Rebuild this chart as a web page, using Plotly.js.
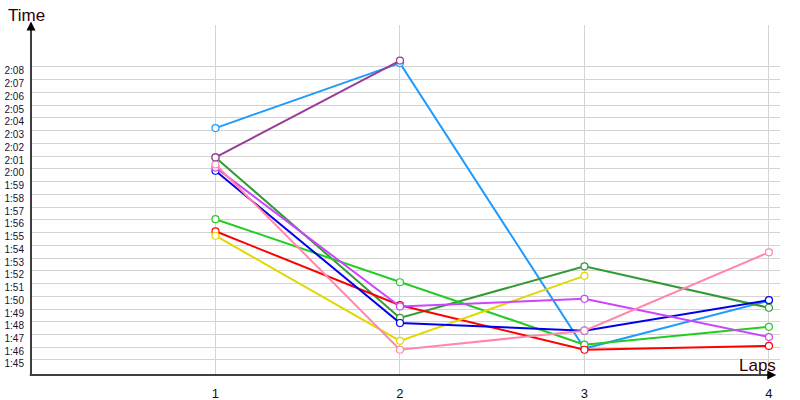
<!DOCTYPE html>
<html>
<head>
<meta charset="utf-8">
<script src="https://cdn.plot.ly/plotly-3.0.1.min.js"></script>
<style>html,body{margin:0;padding:0;background:#fff;}#chart{width:800px;height:400px;}</style>
</head>
<body>
<div id="chart"></div>
<script>
// Laps (x) and lap times in seconds (y)
const laps = [1, 2, 3, 4];
const lightBlue = [123.2, 128.3, 105.9, 109.65];
const darkGreen = [120.9, 108.3, 112.35, 109.1];
const green     = [116.05, 111.1, 106.2, 107.6];
const red       = [115.1, 109.3, 105.8, 106.1];
const yellow    = [114.75, 106.5, 111.6];
const blue      = [119.85, 107.9, 107.3, 109.7];
const magenta   = [120.1, 109.2, 109.8, 106.8];
const pink      = [120.35, 105.8, 107.3, 113.45];
const purple    = [120.9, 128.5];

const tickSeconds = [105,106,107,108,109,110,111,112,113,114,115,116,117,118,119,120,121,122,123,124,125,126,127,128];
const tickLabels = ["1:45","1:46","1:47","1:48","1:49","1:50","1:51","1:52","1:53","1:54","1:55","1:56","1:57","1:58","1:59","2:00","2:01","2:02","2:03","2:04","2:05","2:06","2:07","2:08"];
const lapTicks = [1, 2, 3, 4];
const lapLabels = ["1", "2", "3", "4"];

const series = [
  [lightBlue, "#1e9bff"],
  [darkGreen, "#339933"],
  [green, "#22cc22"],
  [red, "#ff0000"],
  [yellow, "#e0d800"],
  [blue, "#0000ee"],
  [magenta, "#cc44ff"],
  [pink, "#ff88aa"],
  [purple, "#993d99"]
];

const traces = series.map(([vals, col]) => ({
  x: laps.slice(0, vals.length),
  y: vals,
  type: "scatter",
  mode: "lines+markers",
  line: {color: col, width: 2},
  marker: {symbol: "circle", size: 7, color: "#ffffff", line: {color: col, width: 1.2}},
  showlegend: false,
  hoverinfo: "none"
}));

const layout = {
  width: 800, height: 400,
  margin: {l: 31, r: 20, t: 25, b: 25},
  paper_bgcolor: "#ffffff",
  plot_bgcolor: "#ffffff",
  font: {family: "Liberation Sans, Arial, sans-serif", color: "#222"},
  xaxis: {
    range: [0, 4.06],
    tickmode: "array", tickvals: lapTicks, ticktext: lapLabels,
    showgrid: true, gridcolor: "#d4d4d4", gridwidth: 1,
    zeroline: false, showline: false, ticks: "",
    tickfont: {size: 13, color: "#111"},
    ticklabelstandoff: 9
  },
  yaxis: {
    range: [103.82, 131.29],
    tickmode: "array", tickvals: tickSeconds, ticktext: tickLabels,
    showgrid: true, gridcolor: "#d4d4d4", gridwidth: 1,
    zeroline: false, showline: false, ticks: "",
    tickfont: {size: 10, color: "#1a1030"},
    ticklabelshift: 4,
    ticklabelstandoff: 6
  },
  annotations: [
    {xref: "paper", yref: "paper", x: 0, y: 1.01, axref: "pixel", ayref: "pixel", ax: 0, ay: 354,
     showarrow: true, arrowhead: 2, arrowsize: 1.2, arrowwidth: 1.5, arrowcolor: "#000", text: ""},
    {xref: "paper", yref: "paper", x: 0.995, y: 0, axref: "pixel", ayref: "pixel", ax: -748, ay: 0,
     showarrow: true, arrowhead: 2, arrowsize: 1.2, arrowwidth: 1.5, arrowcolor: "#000", text: ""},
    {xref: "paper", yref: "paper", x: -0.033, y: 1.0, yshift: 10, xanchor: "left", yanchor: "middle",
     text: "Time", showarrow: false, font: {size: 17, color: "#300"}},
    {xref: "paper", yref: "paper", x: 0.997, y: 0, yshift: -2, xanchor: "right", yanchor: "bottom",
     text: "Laps", showarrow: false, font: {size: 17, color: "#300"}}
  ]
};

Plotly.newPlot("chart", traces, layout, {staticPlot: true, displayModeBar: false});
</script>
</body>
</html>
